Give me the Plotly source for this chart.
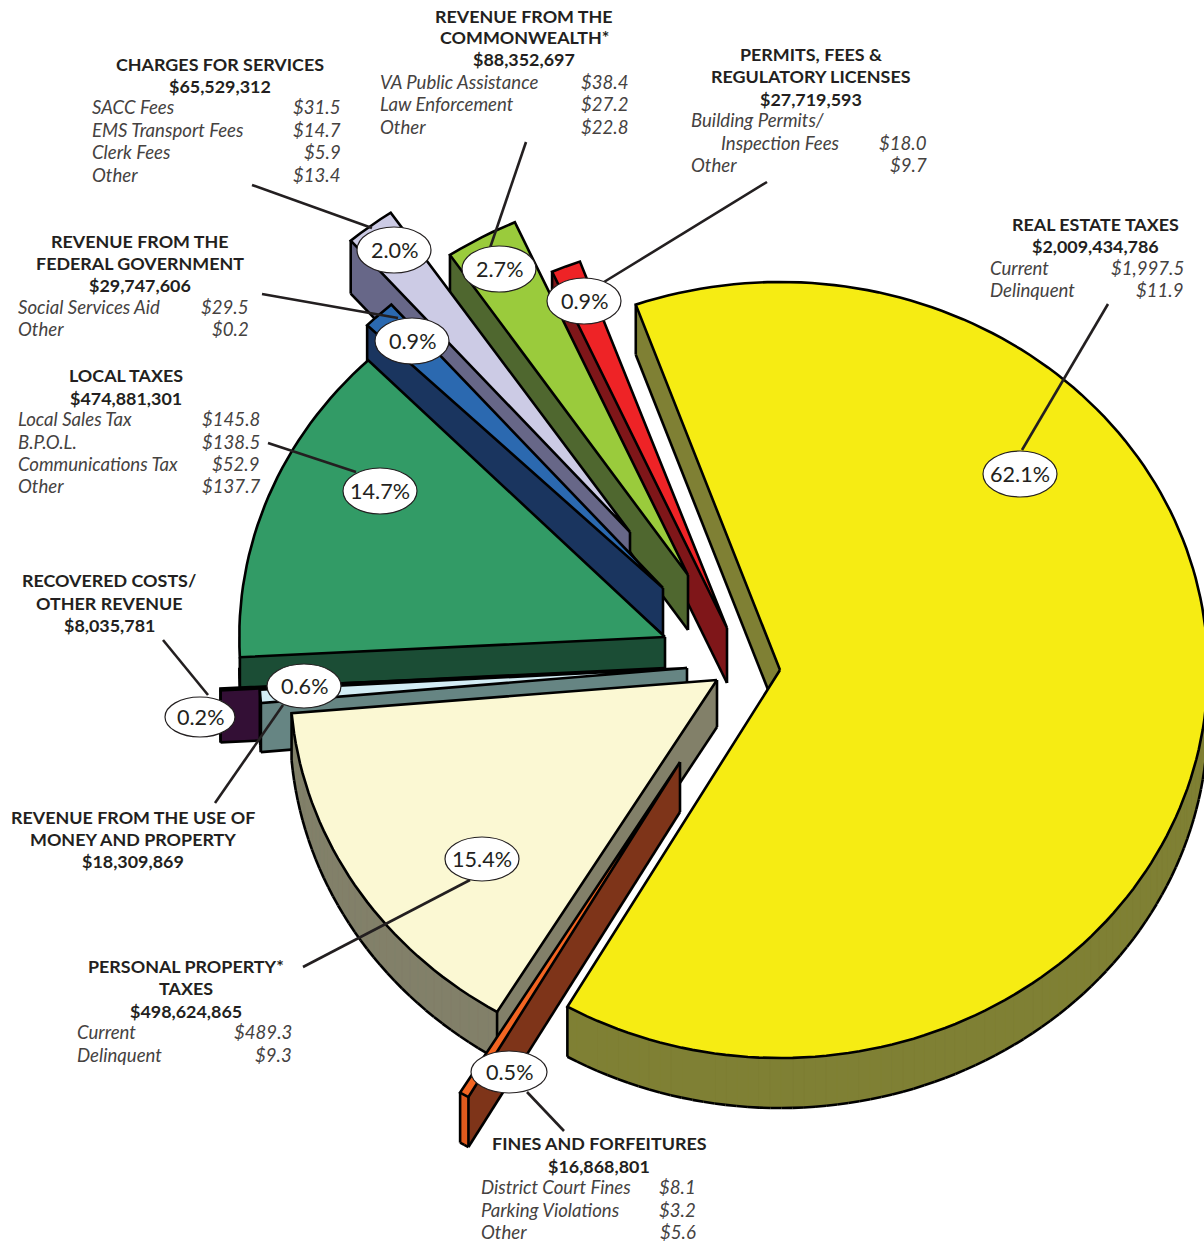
import math
import plotly.graph_objects as go

# ---------- data ----------
categories = ["Real estate taxes", "Fines and forfeitures", "Personal property taxes",
              "Use of money and property", "Recovered costs", "Local taxes",
              "Federal government", "Charges for services", "Commonwealth", "Permits and fees"]
share_labels = ["62.1%", "0.5%", "15.4%", "0.6%", "0.2%", "14.7%", "0.9%", "2.0%", "2.7%", "0.9%"]
# angular extent of every slice as drawn, degrees clockwise from 12 o'clock
slice_start = [-19.7, 209.8, 211.0, 264.8, 267.0, 267.0, 314.4, 319.0, 326.0, 336.0]
slice_end = [209.8, 211.1, 265.1, 266.8, 267.3, 315.8, 319.0, 325.8, 336.0, 340.0]

heading_lines = [
    ["REAL ESTATE TAXES", "$2,009,434,786"],
    ["FINES AND FORFEITURES", "$16,868,801"],
    ["PERSONAL PROPERTY*", "TAXES", "$498,624,865"],
    ["REVENUE FROM THE USE OF", "MONEY AND PROPERTY", "$18,309,869"],
    ["RECOVERED COSTS/", "OTHER REVENUE", "$8,035,781"],
    ["LOCAL TAXES", "$474,881,301"],
    ["REVENUE FROM THE", "FEDERAL GOVERNMENT", "$29,747,606"],
    ["CHARGES FOR SERVICES", "$65,529,312"],
    ["REVENUE FROM THE", "COMMONWEALTH*", "$88,352,697"],
    ["PERMITS, FEES &", "REGULATORY LICENSES", "$27,719,593"],
]
detail_names = [
    ["Current", "Delinquent"],
    ["District Court Fines", "Parking Violations", "Other"],
    ["Current", "Delinquent"],
    [], [],
    ["Local Sales Tax", "B.P.O.L.", "Communications Tax", "Other"],
    ["Social Services Aid", "Other"],
    ["SACC Fees", "EMS Transport Fees", "Clerk Fees", "Other"],
    ["VA Public Assistance", "Law Enforcement", "Other"],
    ["Building Permits/", "Inspection Fees", "Other"],
]
detail_values = [
    ["$1,997.5", "$11.9"],
    ["$8.1", "$3.2", "$5.6"],
    ["$489.3", "$9.3"],
    [], [],
    ["$145.8", "$138.5", "$52.9", "$137.7"],
    ["$29.5", "$0.2"],
    ["$31.5", "$14.7", "$5.9", "$13.4"],
    ["$38.4", "$27.2", "$22.8"],
    ["", "$18.0", "$9.7"],
]

# ---------- geometry and style ----------
RX, RY = 430, 390
radius_scale = [0.995, 0.99, 0.993, 0.995, 1.0, 0.99, 0.963, 0.99, 0.99, 1.0]
apex_x = [780, 680, 717, 687, 650, 665, 663, 630, 688, 727]
apex_y = [670, 762, 680, 668, 670, 637, 588, 532, 575, 628]
depth = [50, 50, 47, 49, 52, 31, 47, 53, 55, 55]
top_color = ["#F6EC13", "#F26522", "#FBF8D3", "#D3EDF5", "#330F35", "#329B66",
             "#2B69B0", "#CCCBE5", "#9ACB3C", "#EE2326"]
wall_color = ["#7F8034", "#7E3419", "#828069", "#668583", "#330F35", "#1B4D35",
              "#1A355F", "#676788", "#4F672F", "#7F1619"]
rim_color = ["#7F8034", "#DF5B1E", "#828069", "#668583", "#330F35", "#1B4D35",
             "#1A355F", "#676788", "#4F672F", "#7F1619"]
draw_order = [9, 8, 7, 6, 5, 4, 3, 2, 1, 0]
INK = "#231F20"
EDGE = 2.6

heading_x = [1095, 599, 186, 133, 109, 126, 140, 220, 524, 811]
heading_y = [[223.5, 245.5], [1142.5, 1165.5], [965.5, 987.5, 1010.5], [816.5, 838.5, 860.5],
             [579.5, 602.5, 624.5], [374.5, 397.5], [240.5, 262.5, 284.5], [63.5, 85.5],
             [15.5, 36.5, 58.5], [53.5, 75.5, 98.5]]
detail_left = [989, 480, 76, 0, 0, 17, 17, 91, 379, 690]
detail_right = [1185, 697, 293, 0, 0, 261, 250, 342, 630, 928]
detail_y = [[268, 290], [1187, 1210, 1232], [1032, 1055], [], [],
            [419, 442, 464, 486], [307, 329], [107, 130, 152, 175], [82, 104, 127], [120, 143, 165]]
bubble_x = [1020, 509, 482, 304, 200, 380, 412, 394, 499, 584]
bubble_y = [474, 1072, 859, 686, 717, 491, 341, 250, 269, 301]
bubble_rx = [37, 38, 37, 37, 35, 37, 37, 37, 37, 37]
bubble_ry = [23, 21, 22, 22, 20, 23, 23, 23, 23, 23]
lead_x = [(1108, 1022), (564, 527), (303, 470), (215, 283), (163, 208), (268, 356), (262, 398), (252, 372), (526, 490), (767, 604)]
lead_y = [(304, 450), (1131, 1092), (967, 880), (803, 705), (640, 695), (443, 472), (294, 318), (185, 228), (142, 248), (182, 282)]

HEAD_FONT = dict(family="Lato, sans-serif", size=17.9, color=INK)
DETAIL_FONT = dict(family="Lato, sans-serif", size=18.6, color="#45423F", style="italic")
PCT_FONT = dict(family="Lato, sans-serif", size=21.6, color=INK)


def slice_outline(i):
    steps = max(2, int((slice_end[i] - slice_start[i]) / 1.5))
    r = radius_scale[i]
    xs, ys = [apex_x[i]], [apex_y[i]]
    for k in range(steps + 1):
        t = math.radians(slice_start[i] + (slice_end[i] - slice_start[i]) * k / steps)
        xs.append(apex_x[i] + r * RX * math.sin(t))
        ys.append(apex_y[i] - r * RY * math.cos(t))
    return xs, ys


def wall_quads(cx, cy, edges, d):
    wx, wy = [], []
    for a in edges:
        q = [(cx[a], cy[a]), (cx[a + 1], cy[a + 1]), (cx[a + 1], cy[a + 1] + d), (cx[a], cy[a] + d)]
        area = sum(q[n][0] * q[(n + 1) % 4][1] - q[(n + 1) % 4][0] * q[n][1] for n in range(4))
        if area < 0:
            q.reverse()
        wx += [p[0] for p in q] + [q[0][0], None]
        wy += [p[1] for p in q] + [q[0][1], None]
    return wx, wy


fig = go.Figure()
for i in draw_order:
    xs, ys = slice_outline(i)
    d = depth[i]
    cx, cy = xs + xs[:1], ys + ys[:1]
    n_edges = len(cx) - 1
    # only edges that run leftward on screen face the viewer and get a wall
    facing = [a for a in range(n_edges) if cx[a + 1] < cx[a]]
    rim = [a for a in facing if a != 0]
    for edges, colour in (([0], wall_color[i]), (rim, rim_color[i])):
        if edges:
            wx, wy = wall_quads(cx, cy, edges, d)
            fig.add_trace(go.Scatter(x=wx, y=wy, mode="lines", fill="toself", fillcolor=colour,
                                     line=dict(color=colour, width=0.6), hoverinfo="skip", showlegend=False))
    ex, ey = [], []
    for a in facing:
        ex += [cx[a], cx[a + 1], None]
        ey += [cy[a] + d, cy[a + 1] + d, None]
    risers = {0, 1}
    if n_edges - 2 in facing:
        risers.add(n_edges - 1)
    for v in risers:
        ex += [cx[v], cx[v], None]
        ey += [cy[v], cy[v] + d, None]
    fig.add_trace(go.Scatter(x=ex, y=ey, mode="lines", line=dict(color="black", width=EDGE),
                             hoverinfo="skip", showlegend=False))
    fig.add_trace(go.Scatter(x=cx, y=cy, mode="lines", fill="toself", fillcolor=top_color[i],
                             line=dict(color="black", width=EDGE),
                             name=categories[i], hoverinfo="name", showlegend=False))

for i in range(len(categories)):
    fig.add_trace(go.Scatter(x=lead_x[i], y=lead_y[i], mode="lines", line=dict(color=INK, width=2.6),
                             hoverinfo="skip", showlegend=False))

shapes = []
annotations = []


def note(x, y, text, font, anchor):
    annotations.append(dict(x=x, y=y, xref="x", yref="y", text=text, font=font, showarrow=False,
                            xanchor=anchor, yanchor="middle", borderpad=0))


for i in range(len(categories)):
    shapes.append(dict(type="circle", xref="x", yref="y", layer="above",
                       x0=bubble_x[i] - bubble_rx[i], x1=bubble_x[i] + bubble_rx[i],
                       y0=bubble_y[i] - bubble_ry[i], y1=bubble_y[i] + bubble_ry[i],
                       fillcolor="white", line=dict(color=INK, width=1.2)))
    note(bubble_x[i], bubble_y[i] - 0.5, share_labels[i], PCT_FONT, "center")
    for line, y in zip(heading_lines[i], heading_y[i]):
        note(heading_x[i], y, "<b>" + line + "</b>", HEAD_FONT, "center")
    for name, value, y in zip(detail_names[i], detail_values[i], detail_y[i]):
        left = detail_left[i] + (30 if name == "Inspection Fees" else 0)
        note(left, y, name, DETAIL_FONT, "left")
        if value:
            note(detail_right[i], y, value, DETAIL_FONT, "right")

fig.update_layout(
    width=1204, height=1243, margin=dict(l=0, r=0, t=0, b=0),
    paper_bgcolor="white", plot_bgcolor="white", showlegend=False,
    xaxis=dict(range=[0, 1204], visible=False, fixedrange=True),
    yaxis=dict(range=[1243, 0], visible=False, fixedrange=True),
    shapes=shapes, annotations=annotations,
)
fig.write_html("out.html", config={"displayModeBar": False},
               post_script="document.body.style.margin='0';document.body.style.overflow='hidden';")
